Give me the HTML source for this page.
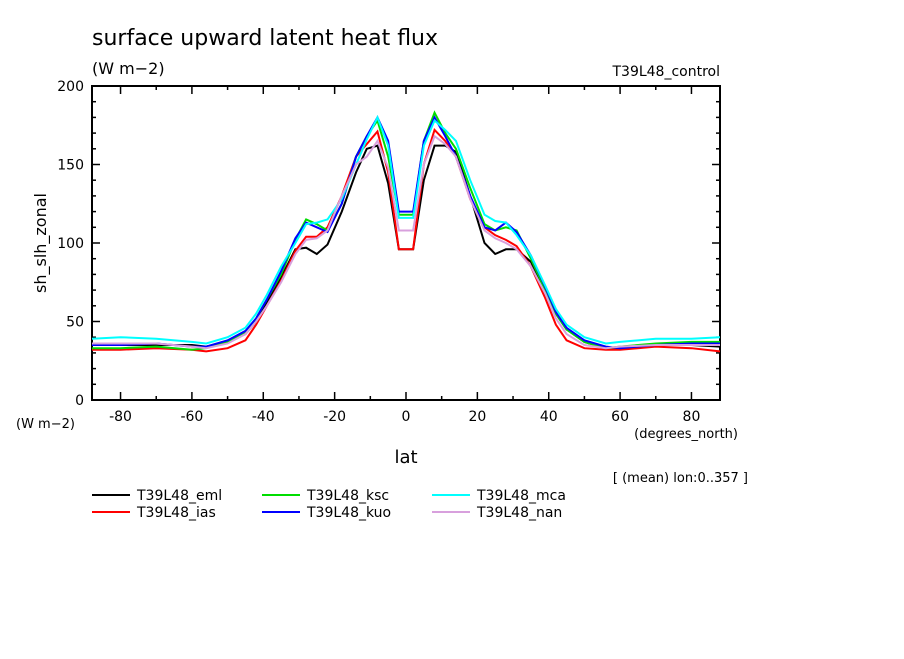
<!DOCTYPE html>
<html><head><meta charset="utf-8"><style>
body{margin:0;background:#fff;}
svg text{font-family:"DejaVu Sans","Liberation Sans",sans-serif;fill:#000;}
</style></head><body>
<svg id="c" width="904" height="654" viewBox="0 0 904 654">
<text x="92" y="45" font-size="22">surface upward latent heat flux</text>
<text x="92" y="74" font-size="16">(W m−2)</text>
<text x="720" y="76" font-size="14" text-anchor="end">T39L48_control</text>
<text x="46" y="243" font-size="16" transform="rotate(-90 46 243)" text-anchor="middle">sh_slh_zonal</text>
<text x="16" y="428" font-size="13">(W m−2)</text>
<text x="738" y="438" font-size="13" text-anchor="end">(degrees_north)</text>
<text x="406" y="463" font-size="18" text-anchor="middle">lat</text>
<text x="748" y="482" font-size="13" text-anchor="end">[ (mean) lon:0..357 ]</text>
<g id="axes"></g><g id="series"></g><g id="legend"></g>
</svg>
<script>
const lats=[-88,-80,-70,-60,-56,-50,-45,-42,-39,-35,-31,-28,-25,-22,-18,-14,-11,-8,-5,-2,2,5,8,11,14,18,22,25,28,31,35,39,42,45,50,56,60,70,80,88];
const eml=[36,35,35,35,34,37,42,50,62,78,96,97,93,99,120,145,160,162,138,96,96,140,162,162,158,130,100,93,96,96,88,70,55,45,37,33,33,35,35,34];
const ias=[32,32,33,32,31,33,38,48,60,76,95,104,104,110,130,155,163,171,145,96,96,150,172,165,155,128,110,105,102,98,85,65,48,38,33,32,32,34,33,31];
const ksc=[33,33,34,32,33,37,43,52,64,80,102,115,112,108,125,155,168,178,155,118,118,165,183,170,160,135,112,108,110,108,90,70,55,45,37,33,34,36,37,37];
const kuo=[35,35,36,34,34,38,44,52,64,82,103,113,110,107,125,155,168,180,165,120,120,165,180,168,155,130,110,108,113,107,92,72,56,46,38,34,33,35,36,36];
const mca=[39,40,39,37,36,40,46,55,67,85,100,112,113,115,128,150,166,180,162,116,116,162,178,172,165,140,118,114,113,105,92,73,58,48,40,36,37,39,39,40];
const nan=[36,36,36,34,33,36,42,50,60,75,93,102,103,108,130,150,155,165,148,108,108,150,168,163,155,128,108,103,100,96,85,68,52,42,35,33,34,35,35,35];
const names=["T39L48_eml","T39L48_ias","T39L48_ksc","T39L48_kuo","T39L48_mca","T39L48_nan"];
const colors=["#000","#f00","#0d0","#00f","#0ff","#d8a0dd"];
const xTicks=[-80,-60,-40,-20,0,20,40,60,80];
const yTicks=[0,50,100,150,200];
const X0=92,X1=720,Y0=400,Y1=86,XMIN=-88,XMAX=88;
const sx=v=>X0+(v-XMIN)/(XMAX-XMIN)*(X1-X0);
const sy=v=>Y0-(v/200)*(Y0-Y1);
const NS="http://www.w3.org/2000/svg";
function mk(t,a,p){const e=document.createElementNS(NS,t);for(const k in a)e.setAttribute(k,a[k]);p.appendChild(e);return e;}
const ax=document.getElementById('axes');
const fr=mk('rect',{x:X0,y:Y1,width:X1-X0,height:Y0-Y1,fill:'none',stroke:'#000','stroke-width':2},ax);


for(let v=-80;v<=80;v+=10){const maj=v%20===0,L=maj?8:4,x=sx(v);
 mk('line',{x1:x,x2:x,y1:Y0,y2:Y0-L,stroke:'#000','stroke-width':1.5},ax);
 mk('line',{x1:x,x2:x,y1:Y1,y2:Y1+L,stroke:'#000','stroke-width':1.5},ax);}
xTicks.forEach(v=>{const t=mk('text',{x:sx(v),y:Y0+21,'font-size':14,'text-anchor':'middle'},ax);t.textContent=v;
 
 });
for(let v=0;v<=200;v+=10){const maj=v%50===0,L=maj?8:4,y=sy(v);
 mk('line',{x1:X0,x2:X0+L,y1:y,y2:y,stroke:'#000','stroke-width':1.5},ax);
 mk('line',{x1:X1,x2:X1-L,y1:y,y2:y,stroke:'#000','stroke-width':1.5},ax);}
yTicks.forEach(v=>{const t=mk('text',{x:X0-8,y:sy(v)+5,'font-size':14,'text-anchor':'end'},ax);t.textContent=v;
 
 });
const sg=document.getElementById('series');
[eml,ias,ksc,kuo,mca,nan].forEach((d,i)=>{
 const p=mk('polyline',{points:d.map((v,j)=>sx(lats[j])+','+sy(v)).join(' '),fill:'none',stroke:colors[i],'stroke-width':2},sg);
 
 
});
const lg=document.getElementById('legend');
names.forEach((n,i)=>{const col=Math.floor(i/2),row=i%2;const x=92+col*170,y=495+row*17;
 const g=mk('g',{},lg);
 
 
 mk('line',{x1:x,x2:x+38,y1:y,y2:y,stroke:colors[i],'stroke-width':2},g);
 const t=mk('text',{x:x+45,y:y+5,'font-size':14},g);t.textContent=n;});
</script>
</body></html>
